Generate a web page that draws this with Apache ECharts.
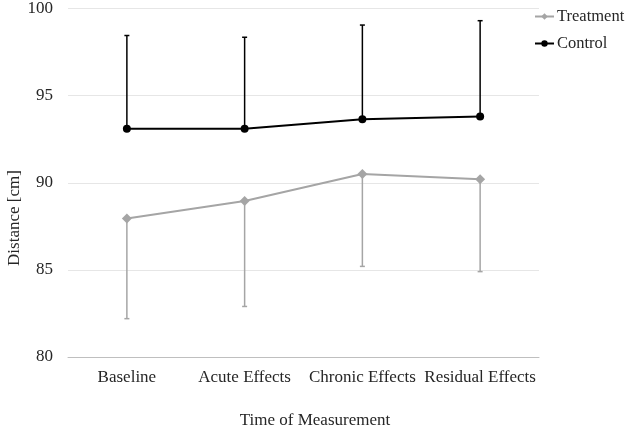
<!DOCTYPE html>
<html>
<head>
<meta charset="utf-8">
<script src="https://cdn.jsdelivr.net/npm/echarts@6/dist/echarts.min.js"></script>
<style>html,body{margin:0;padding:0;background:#fff;}#c{width:630px;height:432px;}</style>
</head>
<body>
<div id="c"></div>
<script>
var categories = ['Baseline', 'Acute Effects', 'Chronic Effects', 'Residual Effects'];
var treatment = [87.95, 88.95, 90.5, 90.2];
var treatmentLow = [82.2, 82.9, 85.2, 84.9];
var control = [93.1, 93.1, 93.65, 93.8];
var controlHigh = [98.45, 98.35, 99.05, 99.3];
var yTicks = [80, 85, 90, 95, 100];

var FONT = '"Liberation Serif", "Times New Roman", serif';
var TXT = '#262626';
var GRAY = '#a5a5a5';
var BLACK = '#000000';

function errData(vals, ends) {
  return vals.map(function (v, i) { return [i, v, ends[i]]; });
}
function errRender(color) {
  return function (params, api) {
    var p0 = api.coord([api.value(0), api.value(1)]);
    var p1 = api.coord([api.value(0), api.value(2)]);
    return {
      type: 'group',
      children: [
        { type: 'line', shape: { x1: p0[0], y1: p0[1], x2: p1[0], y2: p1[1] }, style: { stroke: color, lineWidth: 1.5 } },
        { type: 'line', shape: { x1: p1[0] - 2.5, y1: p1[1], x2: p1[0] + 2.5, y2: p1[1] }, style: { stroke: color, lineWidth: 1.5 } }
      ]
    };
  };
}

var chart = echarts.init(document.getElementById('c'), null, { renderer: 'canvas' });
chart.setOption({
  animation: false,
  backgroundColor: '#fff',
  textStyle: { fontFamily: FONT },
  grid: { left: 68, right: 91, top: 8, bottom: 75, containLabel: false },
  legend: {
    orient: 'vertical',
    left: 534,
    top: 8,
    padding: 0,
    itemWidth: 19,
    itemHeight: 8,
    itemGap: 10,
    data: ['Treatment', 'Control'],
    textStyle: { fontFamily: FONT, fontSize: 16.5, color: TXT, lineHeight: 16, padding: [0, 0, 0, -2] }
  },
  xAxis: {
    type: 'category',
    data: categories,
    boundaryGap: true,
    axisLine: { show: true, lineStyle: { color: '#bfbfbf', width: 1 } },
    axisTick: { show: false },
    axisLabel: { fontFamily: FONT, fontSize: 17, color: TXT, margin: 12, interval: 0 }
  },
  yAxis: {
    type: 'value',
    min: 80,
    max: 100,
    interval: 5,
    axisLine: { show: false },
    axisTick: { show: false },
    splitLine: { show: true, lineStyle: { color: '#e6e6e6', width: 1 } },
    axisLabel: {
      fontFamily: FONT, fontSize: 17, color: TXT, margin: 15,
      formatter: function (v) { return yTicks.indexOf(v) >= 0 ? String(v) : ''; }
    }
  },
  graphic: [
    { type: 'text', x: 15, y: 218, rotation: Math.PI / 2,
      style: { text: 'Distance [cm]', font: '17px ' + FONT, fill: TXT, align: 'center', verticalAlign: 'middle' } },
    { type: 'text', x: 315, y: 421,
      style: { text: 'Time of Measurement', font: '17px ' + FONT, fill: TXT, align: 'center', verticalAlign: 'middle' } }
  ],
  series: [
    {
      name: 'TreatmentErr', type: 'custom', z: 1, silent: true,
      renderItem: errRender(GRAY),
      data: errData(treatment, treatmentLow)
    },
    {
      name: 'ControlErr', type: 'custom', z: 1, silent: true,
      renderItem: errRender(BLACK),
      data: errData(control, controlHigh)
    },
    {
      name: 'Treatment', type: 'line', z: 3,
      data: treatment,
      symbol: 'diamond', symbolSize: 10,
      lineStyle: { color: GRAY, width: 2 },
      itemStyle: { color: GRAY },
      emphasis: { disabled: true }
    },
    {
      name: 'Control', type: 'line', z: 3,
      data: control,
      symbol: 'circle', symbolSize: 8,
      lineStyle: { color: BLACK, width: 2 },
      itemStyle: { color: BLACK },
      emphasis: { disabled: true }
    }
  ]
});
</script>
</body>
</html>
